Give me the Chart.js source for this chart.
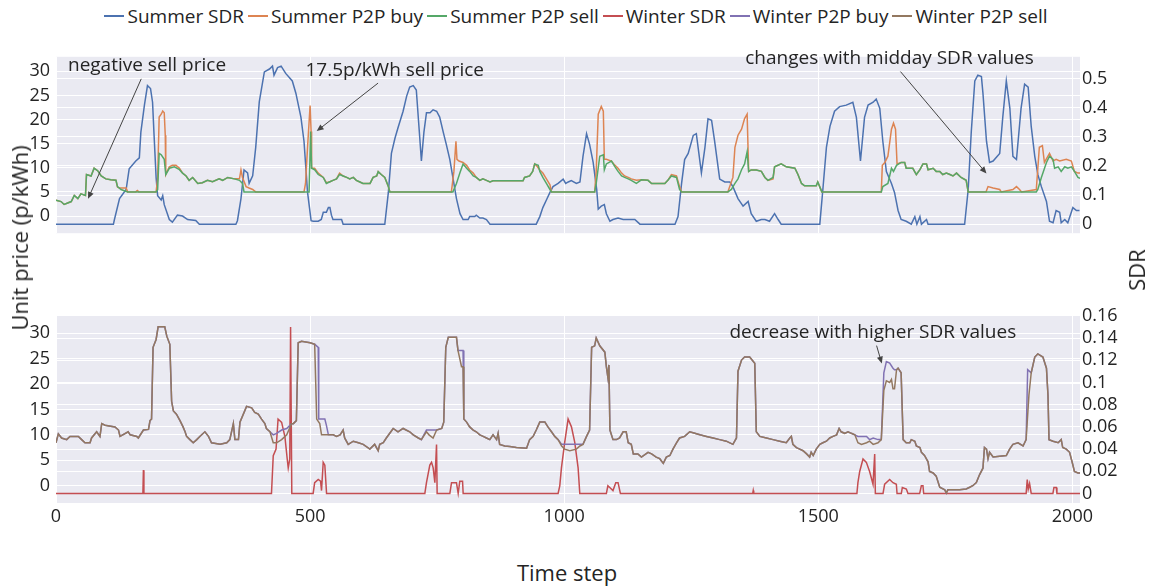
<!DOCTYPE html>
<html>
<head>
<meta charset="utf-8">
<script src="https://cdn.jsdelivr.net/npm/chart.js@4.4.1/dist/chart.umd.min.js"></script>
<style>
  body { margin: 0; background: #fff; font-family: 'Open Sans', sans-serif; color: rgb(36,36,36); }
  #wrap { position: relative; width: 1152px; height: 587px; overflow: hidden; }
  canvas { position: absolute; left: 0; }
  #legend { position: absolute; top: 3px; left: 0; width: 1152px; display: flex; justify-content: center; font-size: 19px; }
  .item { display: flex; align-items: center; margin: 0 2px; }
  .swatch { width: 20px; height: 2px; margin-right: 3px; }
  .title { position: absolute; font-size: 22px; white-space: nowrap; }
</style>
</head>
<body>
<div id="wrap">
  <div id="legend"></div>
  <canvas id="topChart" width="1152" height="210" style="top:40px"></canvas>
  <canvas id="bottomChart" width="1152" height="241" style="top:299px"></canvas>
  <div class="title" style="left:19px;top:238px;transform:translate(-50%,-50%) rotate(-90deg)">Unit price (p/kWh)</div>
  <div class="title" style="left:1136px;top:270px;transform:translate(-50%,-50%) rotate(-90deg)">SDR</div>
  <div class="title" style="left:567px;top:572px;transform:translate(-50%,-50%)">Time step</div>
</div>
<script>
// tick values
const xTicks = [0, 500, 1000, 1500, 2000];
const priceTicks = [0, 5, 10, 15, 20, 25, 30];
const summerSdrTicks = [0, 0.1, 0.2, 0.3, 0.4, 0.5];
const winterSdrTicks = [0, 0.02, 0.04, 0.06, 0.08, 0.1, 0.12, 0.14, 0.16];

// [time step, value]
const summerSdr = [[0,0],[113,0],[115,0.016],[125,0.088],[138,0.119],[144,0.19],[157,0.217],[164,0.228],[167,0.316],[174,0.409],[180,0.476],[186,0.466],[190,0.419],[193,0.305],[197,0.16],[200,0.098],[207,0.083],[210,0.098],[213,0.067],[223,0.016],[229,0.007],[239,0.031],[249,0.028],[259,0.016],[275,0.013],[282,0],[354,0],[357,0.012],[364,0.088],[370,0.186],[377,0.176],[380,0.14],[387,0.166],[393,0.264],[400,0.42],[410,0.523],[420,0.533],[426,0.543],[429,0.512],[436,0.538],[443,0.543],[452,0.518],[465,0.492],[472,0.45],[482,0.367],[488,0.285],[495,0.109],[502,0.012],[506,0.01],[516,0.01],[522,0.016],[526,0.041],[532,0.041],[536,0.057],[539,0.057],[542,0.031],[545,0.016],[562,0.016],[565,0],[647,0],[654,0.109],[660,0.243],[667,0.295],[673,0.331],[683,0.388],[690,0.44],[696,0.471],[703,0.476],[709,0.461],[715,0.316],[719,0.217],[724,0.316],[729,0.383],[736,0.383],[742,0.393],[749,0.388],[755,0.368],[762,0.316],[768,0.274],[775,0.222],[781,0.16],[788,0.088],[795,0.036],[801,0.016],[811,0.016],[814,0.026],[824,0.026],[827,0.031],[834,0.021],[840,0.021],[847,0.016],[854,0],[945,0],[952,0.026],[958,0.057],[965,0.083],[972,0.109],[978,0.129],[988,0.14],[998,0.155],[1003,0.14],[1008,0.145],[1014,0.15],[1024,0.14],[1031,0.145],[1037,0.233],[1044,0.311],[1050,0.274],[1057,0.212],[1064,0.119],[1067,0.052],[1073,0.062],[1079,0.067],[1083,0.036],[1090,0.01],[1096,0.016],[1106,0.021],[1116,0.016],[1126,0.016],[1139,0.016],[1149,0],[1218,0],[1224,0.026],[1231,0.14],[1237,0.222],[1244,0.243],[1254,0.305],[1260,0.311],[1270,0.176],[1277,0.264],[1283,0.362],[1290,0.357],[1296,0.285],[1306,0.155],[1316,0.145],[1326,0.145],[1332,0.129],[1342,0.088],[1352,0.062],[1362,0.078],[1368,0.036],[1378,0.01],[1388,0.016],[1395,0.016],[1404,0.01],[1414,0.036],[1421,0.016],[1427,0],[1503,0],[1509,0.119],[1516,0.264],[1523,0.336],[1532,0.388],[1542,0.404],[1555,0.409],[1568,0.419],[1575,0.367],[1583,0.217],[1591,0.367],[1598,0.409],[1608,0.419],[1614,0.43],[1621,0.398],[1627,0.285],[1634,0.181],[1644,0.14],[1650,0.109],[1657,0.047],[1663,0.016],[1673,0.01],[1683,0],[1690,0.026],[1694,0],[1700,0.026],[1703,0],[1713,0.016],[1716,0],[1788,0],[1795,0.119],[1801,0.316],[1808,0.492],[1814,0.512],[1821,0.507],[1824,0.45],[1831,0.285],[1837,0.212],[1844,0.217],[1857,0.243],[1863,0.367],[1870,0.492],[1877,0.398],[1883,0.233],[1890,0.222],[1899,0.398],[1906,0.481],[1913,0.471],[1919,0.336],[1926,0.233],[1932,0.171],[1939,0.129],[1949,0.078],[1955,0.01],[1962,0.005],[1968,0.047],[1975,0.041],[1978,0.005],[1985,0.016],[1991,0.005],[2001,0.057],[2008,0.047],[2014,0.047]];

const summerBuy = [[0,3.3],[10,3.0],[16,2.4],[23,2.7],[30,3.0],[36,4.25],[43,3.6],[49,4.6],[58,4.25],[60,8.6],[69,8.3],[75,9.9],[82,9.4],[89,8.3],[98,7.7],[108,7.5],[118,7.4],[121,6.0],[125,5.8],[138,5.8],[141,5],[157,5],[160,5.3],[163,5],[197,5],[200,7.7],[203,20.5],[207,21.1],[210,21.75],[213,21.4],[215,16.75],[216,8.6],[223,10.2],[229,10.5],[236,10.5],[243,9.9],[249,8.9],[256,8.3],[262,7.4],[269,8.0],[279,6.75],[288,6.9],[298,7.4],[308,7.1],[321,7.7],[328,7.4],[338,8.0],[351,7.7],[361,7.7],[364,9.55],[367,8.0],[374,6.1],[380,5.8],[387,5.5],[393,5],[488,5],[491,6.75],[495,14.25],[500,22.9],[502,17.5],[503,9.9],[509,9.9],[516,8.9],[526,8.0],[532,6.9],[539,7.1],[545,7.4],[552,7.7],[558,8.9],[565,8.3],[572,8.0],[578,7.7],[585,8.0],[591,7.4],[598,7.05],[604,6.75],[618,6.75],[624,8.0],[631,8.3],[634,9.2],[640,8.6],[647,8.0],[654,6.1],[657,5],[778,5],[783,9.25],[787,15.5],[789,11.75],[793,11.4],[801,11.1],[808,10.5],[814,9.55],[821,8.9],[827,8.0],[834,7.4],[840,7.7],[847,7.4],[854,7.05],[860,7.3],[919,7.3],[922,8.0],[932,8.3],[938,9.25],[942,10.8],[945,10.5],[952,9.55],[958,8.9],[965,7.7],[972,6.45],[975,5],[1060,5],[1063,9.25],[1067,21.1],[1073,22.7],[1077,21.75],[1079,11.75],[1083,11.75],[1093,11.4],[1100,10.5],[1106,9.9],[1113,8.9],[1119,8.3],[1126,8.0],[1132,7.7],[1142,7.4],[1152,7.5],[1165,7.4],[1172,6.75],[1198,6.75],[1204,7.4],[1211,8.6],[1221,8.3],[1227,6.1],[1231,5],[1322,5],[1332,8.0],[1336,14.25],[1342,16.75],[1349,18.0],[1355,20.2],[1360,21.1],[1363,9.25],[1368,9.55],[1378,9.55],[1388,9.25],[1395,8.0],[1401,7.4],[1411,7.7],[1414,10.2],[1427,10.8],[1437,10.2],[1454,9.9],[1460,8.6],[1467,6.75],[1473,6.25],[1496,6.25],[1499,7.05],[1507,5],[1624,5],[1626,10.5],[1631,11.1],[1637,12.4],[1644,18.0],[1648,19.25],[1652,18.0],[1655,10.8],[1663,11.1],[1670,11.1],[1673,9.9],[1686,9.9],[1693,8.6],[1700,9.6],[1706,10.8],[1713,10.8],[1716,9.6],[1726,9.9],[1732,9.25],[1739,9.25],[1745,8.6],[1752,8.9],[1759,8.6],[1765,8.3],[1772,8.9],[1781,8.0],[1791,7.4],[1795,5],[1830,5],[1834,6.1],[1844,5.8],[1857,5.5],[1860,5],[1883,5.5],[1890,6.1],[1896,5.5],[1900,5],[1929,5.5],[1935,14.25],[1941,14.6],[1945,11.1],[1955,13.0],[1962,11.4],[1968,11.75],[1975,11.4],[1988,11.75],[1998,11.4],[2004,9.25],[2011,8.9],[2015,8.9]];

const summerSell = [[0,3.3],[10,3.0],[16,2.4],[23,2.7],[30,3.0],[36,4.25],[43,3.6],[49,4.6],[58,4.25],[60,8.6],[69,8.3],[75,9.9],[82,9.4],[89,8.3],[98,7.7],[108,7.5],[118,7.4],[121,6.1],[128,5.5],[141,5],[197,5],[200,5.5],[203,13.0],[207,12.7],[213,11.75],[216,8.6],[223,9.9],[233,10.2],[243,9.6],[249,8.9],[256,8.3],[262,7.4],[269,8.0],[279,6.75],[288,6.9],[298,7.4],[308,7.1],[321,7.7],[328,7.4],[338,8.0],[351,7.7],[361,7.4],[367,6.75],[370,5],[498,5],[501,17.5],[503,9.9],[509,9.6],[516,8.6],[526,8.0],[532,6.75],[539,7.1],[545,7.4],[552,7.7],[558,8.6],[565,8.3],[572,8.0],[578,7.7],[585,8.0],[591,7.4],[598,7.05],[604,6.75],[618,6.75],[624,8.0],[631,8.3],[634,9.2],[640,8.6],[647,8.0],[654,6.1],[657,5],[781,5],[788,6.75],[795,9.0],[801,10.8],[808,9.9],[814,9.25],[821,8.3],[827,8.0],[834,7.4],[840,7.7],[847,7.4],[854,7.05],[860,7.3],[919,7.3],[922,8.0],[932,8.3],[938,9.25],[942,10.8],[949,10.5],[952,9.25],[958,8.0],[965,6.75],[972,5.5],[975,5],[1060,5],[1063,6.75],[1070,12.4],[1077,12.7],[1079,9.6],[1083,10.8],[1093,11.4],[1100,10.2],[1106,9.25],[1113,8.3],[1119,8.0],[1126,7.7],[1132,7.4],[1142,6.75],[1152,7.5],[1165,7.4],[1172,6.75],[1198,6.75],[1204,7.4],[1211,8.3],[1221,8.0],[1227,5.5],[1231,5],[1322,5],[1329,5.5],[1336,6.75],[1342,7.7],[1349,9.6],[1355,10.8],[1360,13.3],[1363,9.25],[1368,9.55],[1378,9.55],[1388,9.25],[1395,8.0],[1401,7.4],[1411,8.0],[1414,10.2],[1427,10.8],[1437,10.2],[1454,9.9],[1460,8.6],[1467,6.75],[1473,6.25],[1496,6.25],[1499,7.05],[1507,5],[1624,5],[1627,6.1],[1637,6.75],[1644,9.9],[1648,9.25],[1654,10.5],[1663,11.1],[1670,11.1],[1673,9.9],[1686,9.9],[1693,8.6],[1700,9.6],[1706,10.8],[1713,10.8],[1716,9.6],[1726,9.9],[1732,9.25],[1739,9.25],[1745,8.6],[1752,8.9],[1759,8.6],[1765,8.3],[1772,8.9],[1781,8.0],[1791,7.4],[1795,5],[1929,5],[1932,5.5],[1939,8.0],[1949,11.1],[1955,12.4],[1962,11.75],[1965,9.9],[1972,10.2],[1978,9.25],[1985,10.2],[1991,9.9],[1998,10.2],[2004,9.25],[2011,8.0],[2015,7.8]];

const winterSdr = [[0,0],[171,0],[172,0.021],[173,0],[424,0],[427.5,0.034],[433,0.04],[437,0.067],[444,0.064],[450.5,0.051],[455,0.031],[457,0.023],[460,0.031],[461.6,0.15],[464,0],[506,0],[509,0.0097],[516,0.0126],[520.6,0.011],[522.5,0.0026],[525.8,0.028],[529,0.0255],[532.4,0],[725.8,0],[729,0.0097],[735.6,0.0255],[739,0.028],[742.2,0.023],[745.5,0.0097],[748.8,0.044],[750,0],[775,0],[778.3,0.0097],[788,0.0097],[791.4,0],[794.6,0.011],[800,0.011],[801.2,0],[988,0],[991.3,0.0069],[994.6,0.023],[1001,0.046],[1007.7,0.067],[1014.3,0.06],[1020.8,0.046],[1027.4,0.023],[1030.7,0],[1083,0],[1086,0.0069],[1089.7,0.0054],[1096,0.0026],[1101.5,0.0097],[1106,0.0097],[1110.6,0],[1371,0],[1372,0.0026],[1373,0],[1576,0],[1578,0.0097],[1581.5,0.0198],[1588,0.031],[1594.6,0.028],[1601,0.0198],[1607.7,0.0083],[1611,0.0355],[1612.3,0],[1627.4,0],[1630.6,0.0083],[1640.5,0.0126],[1647,0.0097],[1653.6,0.0083],[1655,0],[1663.4,0],[1665.4,0.0054],[1673.3,0.004],[1676.5,0],[1699.5,0],[1702.8,0.0069],[1706,0.0069],[1707.4,0],[1909,0],[1911.2,0.0126],[1913.2,0.004],[1915.8,0.0089],[1919,0],[1961.7,0],[1963.7,0.0054],[1968.3,0.0054],[1969.6,0],[2015,0]];

const winterBuy = [[0,8.44],[4.6,10.2],[11,9.38],[21,9.06],[27.5,9.69],[44,9.69],[50.5,9.06],[57,8.44],[67,8.44],[70,9.38],[80,10.6],[86.5,9.69],[90,12.2],[96.5,11.9],[116,11.56],[123,10.94],[126,9.69],[142,10.6],[146,10.0],[159,9.69],[162,9.38],[172,10.94],[182,11.06],[185,12.8],[188,13.1],[191,27.2],[197,28.75],[201,31.25],[214,31.25],[218,29.4],[224,27.8],[227.5,16.6],[231,14.7],[237,14.06],[244,12.8],[250,11.56],[254,10.6],[257,9.69],[263.5,9.06],[270,8.44],[277,9.06],[283,9.69],[293,10.6],[300,9.69],[306,8.44],[323,8.13],[336,8.44],[342,9.06],[349,12.2],[352,9.06],[359,9.06],[362,12.5],[375,15.6],[385,15.3],[391,14.4],[398,14.06],[404.5,13.1],[411,12.2],[414,11.25],[421,10.6],[427.5,10.0],[434,10.3],[444,10.94],[454,11.25],[463.5,12.2],[467,12.2],[473,12.8],[476.6,28.1],[483,28.4],[500,28.1],[509,27.8],[516,27.2],[517,13.1],[529,13.1],[532,11.9],[536,10.0],[545.5,10.0],[552,9.69],[559,10.0],[565,10.94],[568,9.38],[575,8.13],[585,8.75],[595,8.44],[604.5,8.13],[617.6,7.19],[627,8.13],[634,6.88],[637,8.13],[644,8.44],[650,9.38],[663.5,11.25],[673,10.6],[683,11.25],[696,10.6],[703,10.0],[713,9.38],[719,9.06],[729,10.94],[749,10.94],[759,11.25],[763,12.5],[767,27.2],[772,29.2],[788,29.2],[791,26.6],[801,26.6],[802.5,13.1],[808,12.5],[814,11.56],[821,10.94],[827,10.6],[834,10.0],[840.5,9.69],[847,9.38],[853.6,9.06],[860,10.0],[867,9.06],[870,10.3],[873,8.13],[883,7.81],[893,7.69],[906,7.5],[926,7.38],[932,9.06],[939,9.69],[945,10.94],[952,12.5],[962,12.5],[968,11.56],[975,10.6],[981.5,9.69],[988,9.06],[995,8.13],[1031,8.13],[1037,8.13],[1044,9.69],[1050,10.94],[1054,27.2],[1060,27.5],[1063,29.06],[1070,27.5],[1080,26.25],[1083,23.4],[1086,21.25],[1088,23.75],[1090,10.94],[1096,9.06],[1103,9.06],[1109,9.38],[1116,10.6],[1122,10.6],[1126,8.44],[1132,8.13],[1136,6.25],[1145,6.25],[1152,5.63],[1165,6.56],[1172,6.25],[1181,5.63],[1188,5.31],[1195,4.38],[1201,5.63],[1208,5.94],[1214,7.19],[1221,8.44],[1227,9.38],[1237,9.69],[1247,10.6],[1257,10.3],[1267,10.0],[1280,9.69],[1293,9.38],[1306,9.06],[1319,8.75],[1332,8.13],[1339,9.38],[1342,22.5],[1349,24.7],[1355,25.3],[1365,25.3],[1375,24.06],[1378,10.6],[1385,9.69],[1398,9.38],[1411,9.06],[1424,8.75],[1437,8.44],[1444,9.38],[1447,9.69],[1450,8.13],[1457,7.5],[1463.5,7.19],[1470,6.88],[1477,6.25],[1483,5.63],[1486,6.56],[1490,5.94],[1496,7.19],[1503,8.13],[1509,8.44],[1516,8.75],[1522.5,9.38],[1529,9.69],[1536,10.0],[1541,11.25],[1545,10.6],[1552,10.3],[1558.5,10.6],[1565,10.3],[1572,10.0],[1578,9.69],[1595,9.69],[1601,9.06],[1608,9.38],[1617.5,9.06],[1624,9.06],[1629,22.2],[1634,24.4],[1640.5,24.1],[1647,23.1],[1650,22.8],[1654,22.8],[1657,23.1],[1663,22.2],[1667,9.06],[1673,8.44],[1680,8.44],[1683,9.06],[1690,8.75],[1693,7.81],[1700,7.5],[1703,6.56],[1709,5.94],[1716,4.69],[1719,2.81],[1726,2.5],[1732,1.88],[1739,-0.31],[1749,-0.81],[1752,-1.44],[1755,-0.81],[1778,-0.81],[1791,-0.63],[1798,-0.31],[1804,0],[1811,0.63],[1817.5,2.19],[1824,3.44],[1827,7.5],[1831,7.19],[1834,5.31],[1837,6.56],[1844,5.63],[1857,5.81],[1870,5.94],[1876.5,7.19],[1883,8.13],[1893,8.44],[1903,7.81],[1909,9.06],[1912,22.8],[1919,22.2],[1926,25.3],[1932,25.9],[1942,25.3],[1949,23.1],[1952,17.8],[1954,9.06],[1962,8.75],[1972,8.44],[1978,9.06],[1981,7.5],[1988,7.19],[1994.5,6.56],[2001,4.06],[2004,2.81],[2011,2.5],[2015,2.5]];

const winterSell = [[0,8.44],[4.6,10.2],[11,9.38],[21,9.06],[27.5,9.69],[44,9.69],[50.5,9.06],[57,8.44],[67,8.44],[70,9.38],[80,10.6],[86.5,9.69],[90,12.2],[96.5,11.9],[116,11.56],[123,10.94],[126,9.69],[142,10.6],[146,10.0],[159,9.69],[162,9.38],[172,10.94],[182,11.06],[185,12.8],[188,13.1],[191,27.2],[197,28.75],[201,31.25],[214,31.25],[218,29.4],[224,27.8],[227.5,16.6],[231,14.7],[237,14.06],[244,12.8],[250,11.56],[254,10.6],[257,9.69],[263.5,9.06],[270,8.44],[277,9.06],[283,9.69],[293,10.6],[300,9.69],[306,8.44],[323,8.13],[336,8.44],[342,9.06],[349,12.2],[352,9.06],[359,9.06],[362,12.5],[375,15.6],[385,15.3],[391,14.4],[398,14.06],[404.5,13.1],[411,12.2],[414,11.25],[421,10.6],[427.5,8.44],[434,8.44],[444,9.06],[454,10.0],[463.5,12.2],[467,12.2],[473,12.8],[476.6,28.1],[483,28.4],[500,28.1],[509,27.8],[513,13.1],[519,12.2],[522.5,10.0],[545.5,10.0],[552,9.69],[559,10.0],[565,10.94],[568,9.38],[575,8.13],[585,8.75],[595,8.44],[604.5,8.13],[617.6,7.19],[627,8.13],[634,6.88],[637,8.13],[644,8.44],[650,9.38],[663.5,11.25],[673,10.6],[683,11.25],[696,10.6],[703,10.0],[713,9.38],[719,9.06],[729,10.6],[734,10.0],[742,9.38],[749,10.94],[759,11.25],[763,12.5],[767,27.2],[772,29.2],[788,29.2],[791,26.6],[798,23.4],[801,23.4],[802.5,13.1],[808,12.5],[814,11.56],[821,10.94],[827,10.6],[834,10.0],[840.5,9.69],[847,9.38],[853.6,9.06],[860,10.0],[867,9.06],[870,10.3],[873,8.13],[883,7.81],[893,7.69],[906,7.5],[926,7.38],[932,9.06],[939,9.69],[945,10.94],[952,12.5],[962,12.5],[968,11.56],[975,10.6],[981.5,9.69],[988,9.06],[995,7.81],[1001,7.19],[1011,6.88],[1024,7.19],[1031,7.81],[1037,8.13],[1044,9.69],[1050,10.94],[1054,27.2],[1060,27.5],[1063,29.06],[1070,27.5],[1080,26.25],[1083,23.4],[1086,21.25],[1088,23.75],[1090,10.94],[1096,9.06],[1103,9.06],[1109,9.38],[1116,10.6],[1122,10.6],[1126,8.44],[1132,8.13],[1136,6.25],[1145,6.25],[1152,5.63],[1165,6.56],[1172,6.25],[1181,5.63],[1188,5.31],[1195,4.38],[1201,5.63],[1208,5.94],[1214,7.19],[1221,8.44],[1227,9.38],[1237,9.69],[1247,10.6],[1257,10.3],[1267,10.0],[1280,9.69],[1293,9.38],[1306,9.06],[1319,8.75],[1332,8.13],[1339,9.38],[1342,22.5],[1349,24.7],[1355,25.3],[1365,25.3],[1375,24.06],[1378,10.6],[1385,9.69],[1398,9.38],[1411,9.06],[1424,8.75],[1437,8.44],[1444,9.38],[1447,9.69],[1450,8.13],[1457,7.5],[1463.5,7.19],[1470,6.88],[1477,6.25],[1483,5.63],[1486,6.56],[1490,5.94],[1496,7.19],[1503,8.13],[1509,8.44],[1516,8.75],[1522.5,9.38],[1529,9.69],[1536,10.0],[1541,11.25],[1545,10.6],[1552,10.3],[1558.5,10.6],[1565,10.3],[1572,10.0],[1578,8.44],[1585,8.13],[1595,8.44],[1601,8.75],[1608,8.13],[1617.5,8.44],[1624,9.06],[1629,18.75],[1634,20.6],[1640.5,20.3],[1644,20.9],[1647,19.06],[1650,19.06],[1654,22.8],[1657,23.1],[1663,22.2],[1667,9.06],[1673,8.44],[1680,8.44],[1683,9.06],[1690,8.75],[1693,7.81],[1700,7.5],[1703,6.56],[1709,5.94],[1716,4.69],[1719,2.81],[1726,2.5],[1732,1.88],[1739,-0.31],[1749,-0.81],[1752,-1.44],[1755,-0.81],[1778,-0.81],[1791,-0.63],[1798,-0.31],[1804,0],[1811,0.63],[1817.5,2.19],[1824,3.44],[1827,7.5],[1831,7.19],[1834,5.31],[1837,6.56],[1844,5.63],[1857,5.81],[1870,5.94],[1876.5,7.19],[1883,8.13],[1893,8.44],[1903,7.81],[1909,9.06],[1914.5,17.8],[1919,22.2],[1926,25.3],[1932,25.9],[1942,25.3],[1949,23.1],[1952,17.8],[1954,9.06],[1962,8.75],[1972,8.44],[1978,9.06],[1981,7.5],[1988,7.19],[1994.5,6.56],[2001,4.06],[2004,2.81],[2011,2.5],[2015,2.5]];

const colors = {
  summerSdr: 'rgb(76,114,176)',
  summerBuy: 'rgb(221,132,82)',
  summerSell: 'rgb(85,168,104)',
  winterSdr: 'rgb(196,78,82)',
  winterBuy: 'rgb(129,114,179)',
  winterSell: 'rgb(147,120,96)',
};

const legendItems = [
  ['Summer SDR', colors.summerSdr],
  ['Summer P2P buy', colors.summerBuy],
  ['Summer P2P sell', colors.summerSell],
  ['Winter SDR', colors.winterSdr],
  ['Winter P2P buy', colors.winterBuy],
  ['Winter P2P sell', colors.winterSell],
];

const FONT = "'Open Sans', sans-serif";
const TEXT = 'rgb(36,36,36)';

document.getElementById('legend').innerHTML = legendItems
  .map(([name, c]) => `<div class="item"><div class="swatch" style="background:${c}"></div>${name}</div>`)
  .join('');

const toXY = arr => arr.map(([x, y]) => ({ x, y }));

const line = (label, arr, color, axis) => ({
  label,
  data: toXY(arr),
  borderColor: color,
  backgroundColor: color,
  borderWidth: 1.5,
  pointRadius: 0,
  tension: 0,
  fill: false,
  yAxisID: axis,
});

// plot background
const bgPlugin = {
  id: 'bg',
  beforeDraw(chart) {
    const { ctx, chartArea: a } = chart;
    ctx.save();
    ctx.fillStyle = 'rgb(234,234,242)';
    ctx.fillRect(a.left, a.top, a.right - a.left, a.bottom - a.top);
    ctx.restore();
  },
};

// arrow annotations, tip in data units, text offset in px
const arrowPlugin = {
  id: 'arrows',
  afterDraw(chart, args, opts) {
    const { ctx } = chart;
    const xs = chart.scales.x;
    const ys = chart.scales.y;
    ctx.save();
    ctx.font = `19px ${FONT}`;
    ctx.textAlign = 'center';
    ctx.textBaseline = 'middle';
    (opts.items || []).forEach(a => {
      const tx = xs.getPixelForValue(a.x);
      const ty = ys.getPixelForValue(a.y);
      const cx = tx + a.ax;
      const cy = ty + a.ay;
      const hw = ctx.measureText(a.text).width / 2 + 2;
      const hh = 13;
      const dx = tx - cx;
      const dy = ty - cy;
      const t = Math.min(Math.abs(hw / (dx || 1e-6)), Math.abs(hh / (dy || 1e-6)));
      const sx = cx + dx * t;
      const sy = cy + dy * t;
      const ang = Math.atan2(ty - sy, tx - sx);
      ctx.strokeStyle = '#444';
      ctx.fillStyle = '#444';
      ctx.lineWidth = 1;
      ctx.beginPath();
      ctx.moveTo(sx, sy);
      ctx.lineTo(tx - Math.cos(ang) * 4, ty - Math.sin(ang) * 4);
      ctx.stroke();
      ctx.beginPath();
      ctx.moveTo(tx, ty);
      ctx.lineTo(tx - 7 * Math.cos(ang) + 3 * Math.sin(ang), ty - 7 * Math.sin(ang) - 3 * Math.cos(ang));
      ctx.lineTo(tx - 7 * Math.cos(ang) - 3 * Math.sin(ang), ty - 7 * Math.sin(ang) + 3 * Math.cos(ang));
      ctx.closePath();
      ctx.fill();
      ctx.fillStyle = TEXT;
      ctx.fillText(a.text, cx, cy);
    });
    ctx.restore();
  },
};

const fixedTicks = values => scale => {
  scale.ticks = values.map(value => ({ value }));
};

const fmt = v => String(+Number(v).toFixed(3));

const tickFont = { family: FONT, size: 18 };

const makeChart = (id, datasets, cfg) =>
  new Chart(document.getElementById(id), {
    type: 'line',
    data: { datasets },
    plugins: [bgPlugin, arrowPlugin],
    options: {
      responsive: false,
      animation: false,
      layout: { padding: { top: 8, left: 0, right: 0, bottom: 0 } },
      plugins: {
        legend: { display: false },
        tooltip: { enabled: false },
        arrows: { items: cfg.notes },
      },
      scales: {
        x: {
          type: 'linear',
          min: 0,
          max: 2015,
          afterBuildTicks: fixedTicks(xTicks),
          afterFit: s => { s.height = cfg.xHeight; },
          border: { display: false },
          grid: { color: '#fff', lineWidth: 1, drawTicks: false },
          ticks: {
            display: cfg.showX,
            autoSkip: false,
            padding: 3,
            maxRotation: 0,
            font: tickFont,
            color: TEXT,
            callback: fmt,
          },
        },
        y: {
          position: 'left',
          min: cfg.left[0],
          max: cfg.left[1],
          afterBuildTicks: fixedTicks(priceTicks),
          afterFit: s => { s.width = 56; },
          border: { display: false },
          grid: { color: '#fff', lineWidth: 1, drawTicks: false },
          ticks: { autoSkip: false, padding: 6, font: tickFont, color: TEXT, callback: fmt },
        },
        y2: {
          position: 'right',
          min: cfg.right[0],
          max: cfg.right[1],
          afterBuildTicks: fixedTicks(cfg.rightTicks),
          afterFit: s => { s.width = 72; },
          border: { display: false },
          grid: { color: '#fff', lineWidth: 1, drawTicks: false },
          ticks: { autoSkip: false, padding: 2, font: tickFont, color: TEXT, callback: fmt },
        },
      },
    },
  });

// datasets listed top-most first
makeChart(
  'topChart',
  [
    line('Summer P2P sell', summerSell, colors.summerSell, 'y'),
    line('Summer P2P buy', summerBuy, colors.summerBuy, 'y'),
    line('Summer SDR', summerSdr, colors.summerSdr, 'y2'),
  ],
  {
    left: [-3.56, 33.0],
    right: [-0.031, 0.575],
    rightTicks: summerSdrTicks,
    showX: false,
    xHeight: 7,
    notes: [
      { text: 'negative sell price', x: 63, y: 3.56, ax: 59, ay: -133 },
      { text: '17.5p/kWh sell price', x: 513, y: 17.6, ax: 78, ay: -61 },
      { text: 'changes with midday SDR values', x: 1831, y: 8.8, ax: -97, ay: -115 },
    ],
  }
);

makeChart(
  'bottomChart',
  [
    line('Winter P2P sell', winterSell, colors.winterSell, 'y'),
    line('Winter P2P buy', winterBuy, colors.winterBuy, 'y'),
    line('Winter SDR', winterSdr, colors.winterSdr, 'y2'),
  ],
  {
    left: [-3.4, 33.4],
    right: [-0.0086, 0.16],
    rightTicks: winterSdrTicks,
    showX: true,
    xHeight: 37,
    notes: [
      { text: 'decrease with higher SDR values', x: 1625, y: 24.0, ax: -9, ay: -31 },
    ],
  }
);
</script>
</body>
</html>
